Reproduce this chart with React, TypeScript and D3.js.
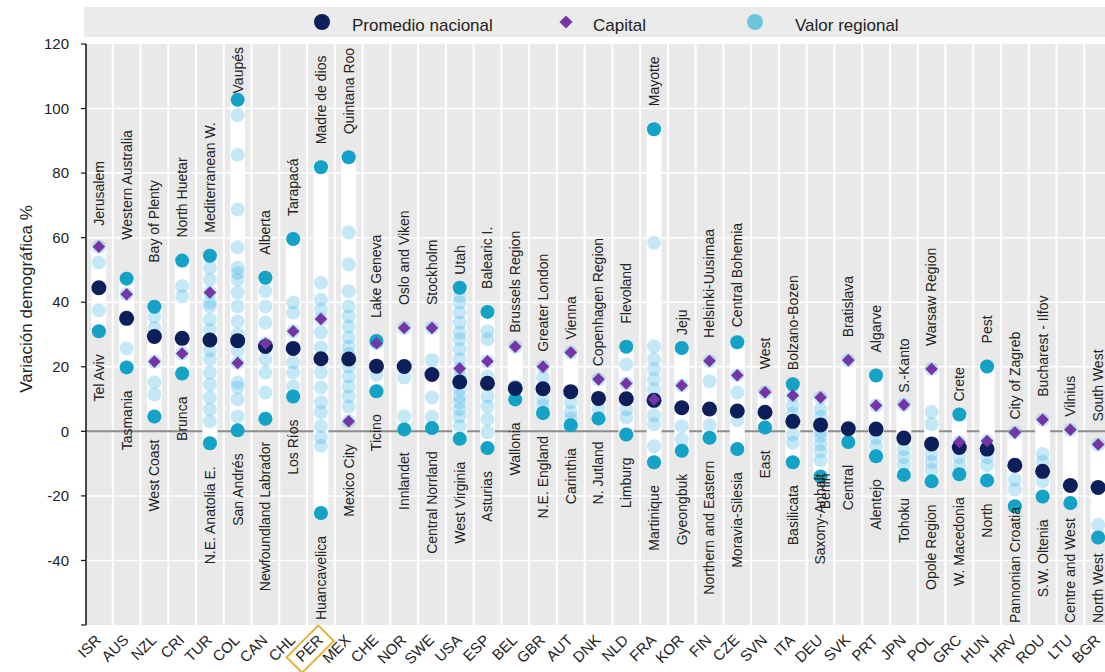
import React, { useEffect, useRef } from "react";
import * as d3 from "d3";

// Countries ordered by national average population change
const countries = [
  "ISR", "AUS", "NZL", "CRI", "TUR", "COL", "CAN", "CHL", "PER", "MEX",
  "CHE", "NOR", "SWE", "USA", "ESP", "BEL", "GBR", "AUT", "DNK", "NLD",
  "FRA", "KOR", "FIN", "CZE", "SVN", "ITA", "DEU", "SVK", "PRT", "JPN",
  "POL", "GRC", "HUN", "HRV", "ROU", "LTU", "BGR",
];

const nationalAvg = [
  44.5, 35.0, 29.4, 28.8, 28.3, 28.1, 26.3, 25.7, 22.5, 22.4,
  20.2, 20.1, 17.6, 15.3, 14.9, 13.3, 13.2, 12.3, 10.2, 10.1,
  9.6, 7.3, 6.9, 6.3, 5.9, 3.1, 2.0, 0.8, 0.7, -2.1,
  -3.9, -5.0, -5.5, -10.5, -12.4, -16.8, -17.4,
];

const capitalValue = [
  57.2, 42.5, 21.6, 24.1, 43.0, 21.2, 27.2, 31.0, 34.8, 3.1,
  27.3, 32.0, 32.0, 19.5, 21.7, 26.2, 20.0, 24.4, 16.1, 14.8,
  9.9, 14.2, 21.8, 17.4, 12.1, 11.1, 10.5, 22.0, 8.0, 8.2,
  19.3, -3.3, -3.0, -0.4, 3.6, 0.5, -4.1,
];

const regionalValues = [
  [57.2, 52.3, 37.5, 31.0],
  [47.3, 42.5, 25.7, 19.8],
  [38.6, 35.5, 32.0, 21.6, 15.2, 11.4, 4.6],
  [52.9, 45.0, 41.8, 24.1, 17.9],
  [54.4, 50.7, 47.0, 43.0, 40.0, 38.7, 34.6, 31.5, 25.0, 22.3, 18.2, 14.5, 10.5, 6.8, 3.1, -3.7],
  [102.7, 98.0, 85.7, 68.7, 57.0, 50.7, 49.0, 47.0, 43.0, 38.7, 34.0, 30.0, 25.0, 21.2, 15.1, 13.6, 9.9, 4.6, 0.3],
  [47.6, 43.4, 38.7, 33.7, 27.2, 22.3, 18.2, 12.0, 3.9],
  [59.6, 39.9, 36.8, 31.0, 21.4, 18.2, 13.9, 10.8],
  [81.8, 46.0, 40.8, 37.7, 34.8, 30.6, 26.0, 18.2, 13.6, 9.0, 5.9, 1.6, -1.9, -4.5, -25.3],
  [84.9, 61.6, 51.7, 43.4, 38.7, 35.6, 32.5, 29.1, 26.3, 24.0, 20.1, 17.0, 13.9, 10.8, 7.7, 3.1],
  [28.0, 27.3, 17.5, 12.4],
  [32.0, 16.7, 4.6, 0.6],
  [32.0, 22.0, 10.5, 4.6, 1.0],
  [44.5, 42.0, 39.9, 36.8, 33.7, 30.6, 28.5, 25.4, 22.3, 19.5, 17.0, 13.0, 10.8, 9.0, 6.8, 4.6, 1.6, -2.3],
  [37.0, 31.0, 28.5, 21.7, 17.0, 10.8, 7.7, 3.7, -0.3, -5.2],
  [26.2, 14.0, 9.9],
  [20.0, 16.6, 13.0, 9.9, 8.0, 5.7],
  [24.4, 9.0, 5.9, 4.0, 1.9],
  [16.1, 7.0, 4.0],
  [26.2, 20.7, 14.8, 6.8, 4.3, -1.0],
  [93.6, 58.4, 26.3, 22.3, 19.2, 16.1, 13.0, 9.9, 5.0, 2.2, -4.6, -9.6],
  [25.8, 14.2, 1.6, -2.5, -6.0],
  [21.8, 15.5, 2.0, -2.0],
  [27.6, 17.4, 12.0, 3.5, -5.5],
  [12.1, 1.2],
  [14.6, 11.1, 8.0, 5.5, 2.8, -1.0, -3.5, -9.6],
  [10.5, 6.8, 4.5, 0.0, -1.5, -4.0, -6.2, -9.0, -14.0],
  [22.0, -3.3],
  [17.3, 8.0, -2.0, -4.5, -7.7],
  [8.2, -5.5, -8.0, -10.5, -13.5],
  [19.3, 6.0, 2.2, -7.0, -9.5, -12.0, -15.5],
  [5.2, -3.3, -8.0, -10.5, -13.3],
  [20.1, -3.0, -8.0, -10.5, -15.2],
  [-0.4, -15.0, -18.0, -23.2],
  [3.6, -7.0, -9.5, -15.5, -20.2],
  [0.5, -22.2],
  [-4.1, -29.0, -32.9],
];

// Region with the highest change in each country
const topRegion = [
  "Jerusalem", "Western Australia", "Bay of Plenty", "North Huetar", "Mediterranean W.",
  "Vaupés", "Alberta", "Tarapacá", "Madre de dios", "Quintana Roo",
  "Lake Geneva", "Oslo and Viken", "Stockholm", "Utah", "Balearic I.",
  "Brussels Region", "Greater London", "Vienna", "Copenhagen Region", "Flevoland",
  "Mayotte", "Jeju", "Helsinki-Uusimaa", "Central Bohemia", "West",
  "Bolzano-Bozen", "Berlin", "Bratislava", "Algarve", "S.-Kanto",
  "Warsaw Region", "Crete", "Pest", "City of Zagreb", "Bucharest - Ilfov",
  "Vilnius", "South West",
];

// Region with the lowest change in each country
const bottomRegion = [
  "Tel Aviv", "Tasmania", "West Coast", "Brunca", "N.E. Anatolia E.",
  "San Andrés", "Newfoundland Labrador", "Los Ríos", "Huancavelica", "Mexico City",
  "Ticino", "Innlandet", "Central Norrland", "West Virginia", "Asturias",
  "Wallonia", "N.E. England", "Carinthia", "N. Jutland", "Limburg",
  "Martinique", "Gyeongbuk", "Northern and Eastern", "Moravia-Silesia", "East",
  "Basilicata", "Saxony-Anhalt", "Central", "Alentejo", "Tohoku",
  "Opole Region", "W. Macedonia", "North", "Pannonian Croatia", "S.W. Oltenia",
  "Centre and West", "North West",
];

const yTicks = [-60, -40, -20, 0, 20, 40, 60, 80, 100, 120];
const yLabelTicks = [-40, -20, 0, 20, 40, 60, 80, 100, 120];

const legendItems = ["Promedio nacional", "Capital", "Valor regional"];
const yTitle = "Variación demográfica %";
const highlighted = "PER";

const W = 1105;
const H = 672;
const PLOT = { left: 86, right: 1112, top: 44, bottom: 625 };

const C = {
  panel: "#e9e9e9",
  navy: "#0c1f5a",
  purple: "#7535a7",
  teal: "#14a2c7",
  light: "#3fb4e4",
  legendLight: "#6cc6de",
  text: "#222222",
  zero: "#8c8c8c",
  gold: "#e6b33a",
};

// label spacing (px) between top point and its label, where it departs from the default
const topGap: Record<string, number> = {
  ISR: 21, AUS: 39, NZL: 44, USA: 13, BEL: 14, GBR: 15, AUT: 13, DNK: 13,
  KOR: 13, CZE: 15, ITA: 14, JPN: 12, GRC: 13, HRV: 13, LTU: 13,
};
const DEFAULT_GAP = 23;

export default function App() {
  const ref = useRef<SVGSVGElement>(null);

  useEffect(() => {
    const svg = d3.select(ref.current as SVGSVGElement);
    svg.selectAll("*").remove();

    const x = d3.scaleBand<string>().domain(countries).range([PLOT.left - 1, PLOT.right]).padding(0);
    const y = d3.scaleLinear().domain([-60, 120]).range([PLOT.bottom, PLOT.top]);
    const cxOf = (c: string) => (x(c) as number) + x.bandwidth() / 2;

    // legend strip
    const lg = svg.append("g");
    lg.append("rect").attr("x", 84).attr("y", 7).attr("width", W - 84).attr("height", 30).attr("fill", "#ebebeb");
    lg.append("circle").attr("cx", 322).attr("cy", 22).attr("r", 8).attr("fill", C.navy);
    lg.append("path")
      .attr("d", d3.symbol(d3.symbolDiamond2, 110)())
      .attr("transform", "translate(566,22)")
      .attr("fill", C.purple);
    lg.append("circle").attr("cx", 755).attr("cy", 22).attr("r", 8).attr("fill", C.legendLight);
    const legendX = [352, 593, 795];
    legendItems.forEach((t, i) => {
      lg.append("text").attr("x", legendX[i]).attr("y", 31).attr("font-size", 17).attr("fill", C.text).text(t);
    });

    // plot panel
    svg.append("rect")
      .attr("x", PLOT.left).attr("y", PLOT.top)
      .attr("width", W - PLOT.left).attr("height", PLOT.bottom - PLOT.top)
      .attr("fill", C.panel);

    const grid = svg.append("g");
    yTicks.filter((t) => t !== 0 && t !== -60 && t !== 120).forEach((t) => {
      grid.append("line")
        .attr("x1", PLOT.left).attr("x2", W)
        .attr("y1", y(t)).attr("y2", y(t))
        .attr("stroke", "#ffffff").attr("stroke-width", 1.5);
    });
    countries.slice(1).forEach((c) => {
      grid.append("line")
        .attr("x1", x(c) as number).attr("x2", x(c) as number)
        .attr("y1", PLOT.top).attr("y2", PLOT.bottom)
        .attr("stroke", "#ffffff").attr("stroke-width", 2);
    });
    grid.append("line")
      .attr("x1", PLOT.left).attr("x2", W)
      .attr("y1", y(0)).attr("y2", y(0))
      .attr("stroke", C.zero).attr("stroke-width", 2);

    // white range bars from lowest to highest region
    const bars = svg.append("g");
    countries.forEach((c, i) => {
      const vals = regionalValues[i];
      const hi = d3.max(vals) as number;
      const lo = d3.min(vals) as number;
      bars.append("rect")
        .attr("x", cxOf(c) - 7.5).attr("width", 15)
        .attr("y", y(hi)).attr("height", y(lo) - y(hi))
        .attr("fill", "#ffffff");
    });

    // regional values
    const pts = svg.append("g");
    countries.forEach((c, i) => {
      const cx = cxOf(c);
      regionalValues[i].forEach((v) => {
        pts.append("circle").attr("cx", cx).attr("cy", y(v)).attr("r", 7)
          .attr("fill", C.light).attr("fill-opacity", 0.3);
      });
    });
    // highlighted extremes (unless the extreme is the capital region)
    countries.forEach((c, i) => {
      const cx = cxOf(c);
      const vals = regionalValues[i];
      [d3.max(vals) as number, d3.min(vals) as number].forEach((v) => {
        if (Math.abs(v - capitalValue[i]) < 0.05) return;
        pts.append("circle").attr("cx", cx).attr("cy", y(v)).attr("r", 7).attr("fill", C.teal);
      });
    });
    // national averages
    countries.forEach((c, i) => {
      pts.append("circle").attr("cx", cxOf(c)).attr("cy", y(nationalAvg[i])).attr("r", 7.5).attr("fill", C.navy);
    });
    // capitals
    const diamond = d3.symbol(d3.symbolDiamond2, 100)();
    countries.forEach((c, i) => {
      pts.append("path").attr("d", diamond)
        .attr("transform", `translate(${cxOf(c)},${y(capitalValue[i])})`)
        .attr("fill", C.purple);
    });

    // region names
    const lab = svg.append("g").attr("font-size", 14).attr("fill", C.text);
    countries.forEach((c, i) => {
      const cx = cxOf(c);
      const vals = regionalValues[i];
      const yHi = y(d3.max(vals) as number);
      const yLo = y(d3.min(vals) as number);

      const bottom = lab.append("text").attr("dy", "0.35em").text(bottomRegion[i]);
      const top = lab.append("text").attr("dy", "0.35em").text(topRegion[i]);
      const bLen = (bottom.node() as SVGTextElement).getComputedTextLength();
      const tLen = (top.node() as SVGTextElement).getComputedTextLength();

      if (c === "DEU") {
        // both German labels sit below the column
        bottom.attr("text-anchor", "end").attr("transform", `translate(${cx},${yLo - 3}) rotate(-90)`);
        top.attr("text-anchor", "end").attr("transform", `translate(${cx + 5},${yLo - 3}) rotate(-90)`);
        return;
      }

      const tNear = yHi - (topGap[c] ?? DEFAULT_GAP);
      if (tNear - tLen < PLOT.top + 2) {
        top.attr("text-anchor", "end").attr("transform", `translate(${cx},${PLOT.top + 3}) rotate(-90)`);
      } else {
        top.attr("text-anchor", "start").attr("transform", `translate(${cx},${tNear}) rotate(-90)`);
      }

      const bNear = yLo + DEFAULT_GAP;
      if (bNear + bLen > PLOT.bottom - 2) {
        bottom.attr("text-anchor", "start").attr("transform", `translate(${cx},${PLOT.bottom - 2}) rotate(-90)`);
      } else {
        bottom.attr("text-anchor", "end").attr("transform", `translate(${cx},${bNear}) rotate(-90)`);
      }
    });

    // y axis
    const ax = svg.append("g").attr("fill", C.text);
    ax.append("line")
      .attr("x1", PLOT.left).attr("x2", PLOT.left)
      .attr("y1", PLOT.top).attr("y2", PLOT.bottom)
      .attr("stroke", "#111").attr("stroke-width", 1.5);
    yTicks.forEach((t) => {
      ax.append("line")
        .attr("x1", PLOT.left - 5).attr("x2", PLOT.left)
        .attr("y1", y(t)).attr("y2", y(t))
        .attr("stroke", "#111").attr("stroke-width", 1.2);
    });
    yLabelTicks.forEach((t) => {
      ax.append("text")
        .attr("x", 69).attr("y", y(t)).attr("dy", "0.35em")
        .attr("text-anchor", "end").attr("font-size", 15)
        .text(String(t));
    });
    ax.append("text")
      .attr("transform", `translate(32,299) rotate(-90)`)
      .attr("text-anchor", "middle").attr("font-size", 17)
      .text(yTitle);

    // country codes
    const xl = svg.append("g").attr("fill", C.text).attr("font-size", 15);
    countries.forEach((c) => {
      const g = xl.append("g").attr("transform", `translate(${cxOf(c) + 3},641) rotate(-45)`);
      const t = g.append("text").attr("text-anchor", "end").text(c);
      if (c === highlighted) {
        const w = (t.node() as SVGTextElement).getComputedTextLength();
        g.append("rect")
          .attr("x", -w - 7).attr("y", -15)
          .attr("width", w + 14).attr("height", 22)
          .attr("fill", "none").attr("stroke", C.gold).attr("stroke-width", 2);
      }
    });
  }, []);

  return (
    <svg
      ref={ref}
      width={W}
      height={H}
      style={{
        position: "absolute",
        left: 0,
        top: 0,
        background: "#ffffff",
        fontFamily: "'Liberation Sans', Arial, sans-serif",
      }}
    />
  );
}
